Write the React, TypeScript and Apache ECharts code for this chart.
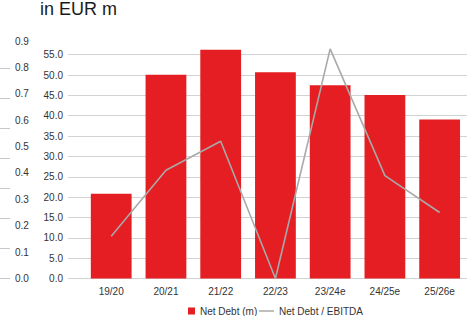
import React, { useEffect, useRef } from "react";
import * as echarts from "echarts";

const categories = ["19/20", "20/21", "21/22", "22/23", "23/24e", "24/25e", "25/26e"];
const netDebt = [20.8, 50.1, 56.2, 50.7, 47.5, 45.1, 39.1];
const ratio = [0.16, 0.41, 0.52, 0.0, 0.87, 0.39, 0.25];
const debtTicks = { min: 0, max: 55, interval: 5 };
const ratioTicks = { min: 0, max: 0.9, interval: 0.1 };

const FONT = "'Liberation Sans', Arial, Helvetica, sans-serif";

export default function App() {
  const ref = useRef<HTMLDivElement>(null);
  useEffect(() => {
    if (!ref.current) return;
    const chart = echarts.init(ref.current, undefined, { renderer: "svg" });
    const plotLeft = 83.85;
    const plotRight = -6.85;
    const bottom = 37.5;
    chart.setOption({
      animation: false,
      textStyle: { fontFamily: FONT },
      title: {
        text: "in EUR m",
        left: 40,
        top: 0,
        padding: 0,
        textStyle: { fontSize: 18, fontWeight: "normal", color: "#1a1a1a", fontFamily: FONT },
      },
      legend: [
        {
          data: ["Net Debt (m)"],
          left: 188,
          top: 306,
          padding: 0,
          itemWidth: 7,
          itemHeight: 7,
          icon: "rect",
          textStyle: { fontSize: 10, color: "#333", fontFamily: FONT },
        },
        {
          data: ["Net Debt / EBITDA"],
          left: 259,
          top: 306,
          padding: 0,
          itemWidth: 15,
          itemHeight: 1.5,
          icon: "rect",
          textStyle: { fontSize: 10, color: "#333", fontFamily: FONT },
        },
      ],
      grid: [
        { left: 68, right: 0, top: 54.7, bottom },
        { left: plotLeft, right: plotRight, top: 54.7, bottom },
        { left: plotLeft, right: plotRight, top: 41, bottom },
        { left: 10, width: 10, top: 68.5, bottom },
      ],
      xAxis: [
        { gridIndex: 0, type: "value", show: false, min: 0, max: 1 },
        {
          gridIndex: 1,
          type: "category",
          data: categories,
          axisLine: { show: false },
          axisTick: { show: false },
          axisLabel: { fontSize: 10, color: "#333", margin: 8 },
        },
        { gridIndex: 2, type: "category", data: categories, show: false },
        { gridIndex: 3, type: "value", show: false, min: 0, max: 1 },
      ],
      yAxis: [
        {
          gridIndex: 0,
          type: "value",
          min: debtTicks.min,
          max: debtTicks.max,
          interval: debtTicks.interval,
          axisLine: { show: false },
          axisTick: { show: false },
          axisLabel: {
            fontSize: 10,
            color: "#333",
            margin: 5,
            formatter: (v: number) => v.toFixed(1),
          },
          splitLine: { lineStyle: { color: "#d2d2d2", width: 1 } },
        },
        { gridIndex: 1, type: "value", show: false, min: debtTicks.min, max: debtTicks.max },
        {
          gridIndex: 2,
          type: "value",
          position: "left",
          offset: plotLeft - 10,
          min: ratioTicks.min,
          max: ratioTicks.max,
          interval: ratioTicks.interval,
          axisLine: { show: false },
          axisTick: { show: false },
          splitLine: { show: false },
          axisLabel: {
            inside: true,
            margin: 5,
            fontSize: 10,
            color: "#333",
            formatter: (v: number) => v.toFixed(1),
          },
        },
        {
          gridIndex: 3,
          type: "value",
          position: "left",
          min: 0,
          max: 7,
          interval: 1,
          axisLine: { show: false },
          axisLabel: { show: false },
          splitLine: { show: false },
          axisTick: { show: true, length: 10, lineStyle: { color: "#c8c8c8", width: 1 } },
        },
      ],
      series: [
        {
          name: "Net Debt (m)",
          type: "bar",
          xAxisIndex: 1,
          yAxisIndex: 1,
          data: netDebt,
          clip: false,
          barCategoryGap: "25.5%",
          itemStyle: { color: "#e41e22" },
        },
        {
          name: "Net Debt / EBITDA",
          type: "line",
          xAxisIndex: 2,
          yAxisIndex: 2,
          data: ratio,
          symbol: "none",
          clip: false,
          lineStyle: { color: "#a9a9a9", width: 1.6 },
          itemStyle: { color: "#a9a9a9" },
          z: 5,
        },
      ],
    });
    return () => chart.dispose();
  }, []);
  return (
    <div
      ref={ref}
      style={{ position: "fixed", left: 0, top: 0, width: 467, height: 316, background: "#fff" }}
    />
  );
}
